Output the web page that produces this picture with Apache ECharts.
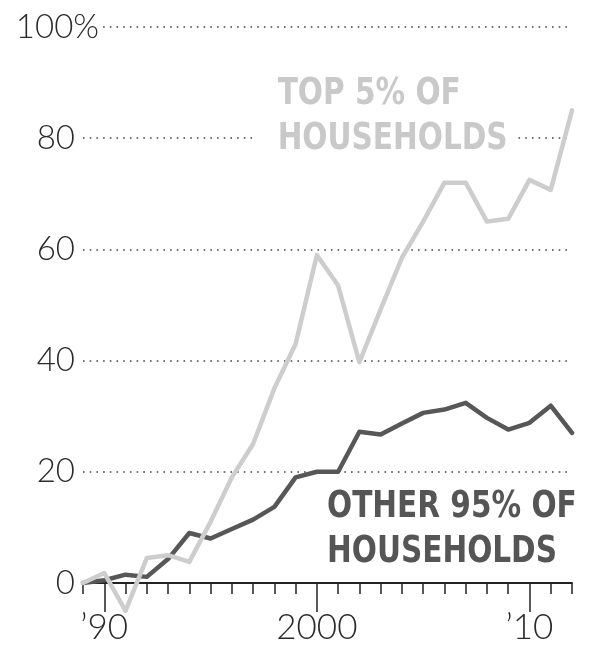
<!DOCTYPE html>
<html>
<head>
<meta charset="utf-8">
<script src="https://cdn.jsdelivr.net/npm/echarts@6/dist/echarts.min.js"></script>
<style>
html,body{margin:0;padding:0;background:#fff;}
#chart{width:591px;height:651px;}
</style>
</head>
<body>
<div id="chart"></div>
<script>
// ---- data ----
const years = [1989,1990,1991,1992,1993,1994,1995,1996,1997,1998,1999,2000,2001,2002,2003,2004,2005,2006,2007,2008,2009,2010,2011,2012];
const top5 = [0,1.8,-5,4.5,5,3.8,11,19,25,35,43,59,53.5,39.7,49.2,58.5,65,72,72,65,65.5,72.5,70.7,85];
const other95 = [0,0.5,1.5,1.1,4.3,9,8,9.7,11.4,13.7,19,20,20,27.2,26.7,28.7,30.6,31.2,32.4,29.7,27.6,28.8,31.9,27];
const yTicks = [0,20,40,60,80,100];
const yLabelValues = [0,20,40,60,80];
const yTopLabel = [100];
const xLabelYears = [1990,2000,2010];
const xLabelText = ['\u201990','2000','\u201910'];
const topLabel = 'TOP 5% OF\nHOUSEHOLDS';
const otherLabel = 'OTHER 95% OF\nHOUSEHOLDS';

const numFont = 'Lato, "Open Sans", sans-serif';
const boldFont = '"DejaVu Sans Condensed", "DejaVu Sans", sans-serif';

const chart = echarts.init(document.getElementById('chart'), null, {renderer:'canvas'});

const labelStyle = {fontSize: 33, color: '#2a2a2a', fontFamily: numFont, fontWeight: 300};

const option = {
  animation: false,
  backgroundColor: '#fff',
  grid: {left: 83, right: 19, top: 27, bottom: 68, containLabel: false},
  xAxis: [
    {
      type: 'value', min: years[0], max: years[years.length-1], interval: 1,
      axisLine: {show: true, onZero: false, lineStyle: {color: '#222', width: 2}},
      axisTick: {show: true, length: 11, lineStyle: {color: '#222', width: 1.5}},
      axisLabel: {
        show: true, customValues: xLabelYears, margin: 27,
        fontSize: 35, color: '#2a2a2a', fontFamily: numFont, fontWeight: 300,
        formatter: v => { const i = xLabelYears.indexOf(v); return i >= 0 ? xLabelText[i] : ''; }
      },
      splitLine: {show: false}
    },
    {
      type: 'value', min: years[0], max: years[years.length-1], position: 'bottom',
      axisLine: {show: false, onZero: false},
      axisTick: {show: true, customValues: xLabelYears, length: 29, lineStyle: {color: '#222', width: 1.5}},
      axisLabel: {show: false},
      splitLine: {show: false}
    }
  ],
  yAxis: [
    {
      type: 'value', min: yTicks[0], max: yTicks[yTicks.length-1], interval: 20,
      axisLine: {show: false}, axisTick: {show: false},
      axisLabel: Object.assign({margin: 8, customValues: yLabelValues, formatter: v => String(v)}, labelStyle),
      splitLine: {show: true, lineStyle: {type: [1.6, 5.1], color: '#444', width: 1.6}}
    },
    {
      type: 'value', min: yTicks[0], max: yTicks[yTicks.length-1], interval: 20, position: 'left', z: 5,
      axisLine: {show: false}, axisTick: {show: false},
      axisLabel: Object.assign({margin: -18, customValues: yTopLabel, formatter: v => v + '%',
        backgroundColor: '#fff', padding: [0, 2, 0, 0]}, labelStyle),
      splitLine: {show: false}
    }
  ],
  series: [
    {
      type: 'line', name: 'Other 95% of households', xAxisIndex: 0, yAxisIndex: 0,
      data: years.map((y, i) => [y, other95[i]]),
      symbol: 'none', smooth: false, clip: false,
      lineStyle: {color: '#575757', width: 4.5, cap: 'round', join: 'round'},
      z: 3
    },
    {
      type: 'line', name: 'Top 5% of households', xAxisIndex: 0, yAxisIndex: 0,
      data: years.map((y, i) => [y, top5[i]]),
      symbol: 'none', smooth: false, clip: false,
      lineStyle: {color: '#cdcdcd', width: 4.5, cap: 'round', join: 'round'},
      z: 4
    }
  ],
  graphic: [
    {
      type: 'text', x: 256, y: 70, scaleX: 0.865, z: 100,
      style: {
        text: topLabel, fill: '#c9c9c9', align: 'left', verticalAlign: 'top',
        font: 'bold 38px ' + boldFont, lineHeight: 45,
        backgroundColor: '#fff', padding: [2, 12, 2, 25]
      }
    },
    {
      type: 'text', x: 327, y: 485, scaleX: 0.865, z: 100,
      style: {
        text: otherLabel, fill: '#555555', align: 'left', verticalAlign: 'top',
        font: 'bold 38px ' + boldFont, lineHeight: 45
      }
    }
  ]
};
chart.setOption(option);
</script>
</body>
</html>
